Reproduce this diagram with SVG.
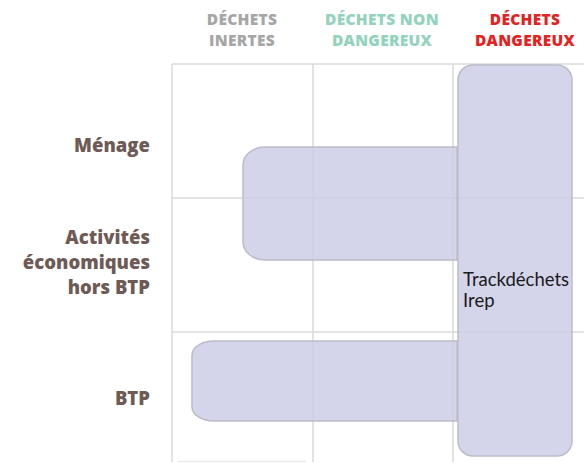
<svg xmlns="http://www.w3.org/2000/svg" width="584" height="463" viewBox="0 0 584 463">
<style>
.grid{stroke:#dadada;stroke-width:1.5;fill:none}
.box{fill:rgb(204,204,230);fill-opacity:0.85;stroke:#bcbcc8;stroke-width:1.5}
.hd{font-family:"Open Sans","DejaVu Sans",sans-serif;font-weight:800;font-size:15.5px;letter-spacing:0.3px;text-anchor:middle}
.row{font-family:"Open Sans","DejaVu Sans",sans-serif;font-weight:800;font-size:18.5px;fill:#6e5b56;text-anchor:end}
.lbl{font-family:Lato,"Liberation Sans",sans-serif;font-size:18.5px;fill:#1a1a1a}
</style>
<rect width="584" height="463" fill="#ffffff"/>
<g id="grid">
<line class="grid" x1="172" y1="64" x2="584" y2="64"/>
<line class="grid" x1="172" y1="198" x2="584" y2="198"/>
<line class="grid" x1="172" y1="332" x2="584" y2="332"/>
<line class="grid" x1="172" y1="64" x2="172" y2="462"/>
<line class="grid" x1="313" y1="64" x2="313" y2="462"/>
<line class="grid" x1="453" y1="64" x2="453" y2="462"/>
<line class="grid" x1="178" y1="461.5" x2="306" y2="461.5" style="stroke:#ececec"/>
</g>
<g id="headers">
<text class="hd" fill="#a6a6a6"><tspan x="242" y="25">DÉCHETS</tspan><tspan x="242" y="46">INERTES</tspan></text>
<text class="hd" fill="#93d3bd"><tspan x="382" y="25">DÉCHETS NON</tspan><tspan x="382" y="46">DANGEREUX</tspan></text>
<text class="hd" fill="#e2231f"><tspan x="525" y="25">DÉCHETS</tspan><tspan x="525" y="46">DANGEREUX</tspan></text>
</g>
<g id="rows">
<text class="row" x="150" y="152">Ménage</text>
<text class="row"><tspan x="150" y="243.5">Activités</tspan><tspan x="150" y="268.8">économiques</tspan><tspan x="150" y="294.1">hors BTP</tspan></text>
<text class="row" x="150" y="405">BTP</text>
</g>
<g id="node-menage-activites">
<path class="box" d="M457,147 L265,147 A22,18 0 0 0 243,165 L243,242 A22,18 0 0 0 265,260 L457,260 Z"/>
</g>
<g id="node-btp">
<path class="box" d="M457,341 L214,341 A22,14 0 0 0 192,355 L192,407 A22,14 0 0 0 214,421 L457,421 Z"/>
</g>
<g id="node-dangereux">
<rect class="box" x="458" y="65" width="114" height="391" rx="15" ry="15"/>
<text class="lbl"><tspan x="463" y="286">Trackdéchets</tspan><tspan x="463" y="307">Irep</tspan></text>
</g>
</svg>
